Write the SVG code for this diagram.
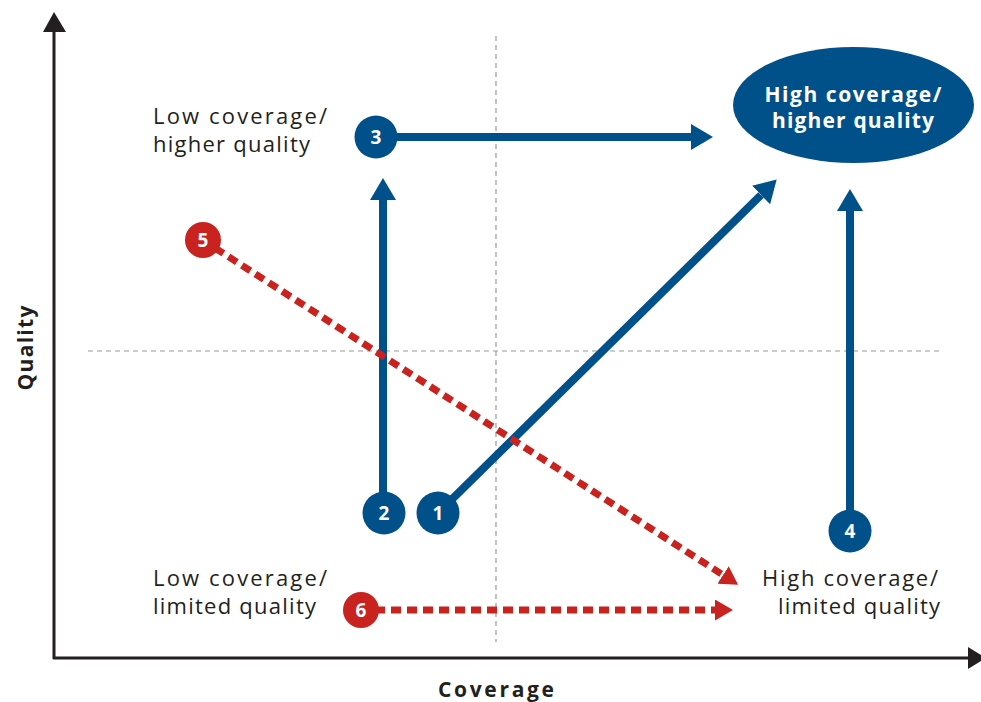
<svg xmlns="http://www.w3.org/2000/svg" width="981" height="702" viewBox="0 0 981 702">
<style>
.axis{stroke:#231f20;stroke-width:3;fill:none}
.grid{stroke:#999;stroke-width:1.2;stroke-dasharray:5 4;fill:none}
.blue{stroke:#00508a;stroke-width:8;fill:none}
.red{stroke:#c8231e;stroke-width:7;stroke-dasharray:10 6;fill:none}
.bfill{fill:#00508a}
.rfill{fill:#c8231e}
.lbl{font-family:"Open Sans","Liberation Sans",sans-serif;font-size:22px;fill:#231f20}
.num{font-family:"Open Sans","Liberation Sans",sans-serif;font-size:19px;font-weight:bold;fill:#fff;text-anchor:middle}
.ell{font-family:"Open Sans","Liberation Sans",sans-serif;font-size:21px;font-weight:bold;fill:#fff;text-anchor:middle}
.ax{font-family:"Open Sans","Liberation Sans",sans-serif;font-size:21px;font-weight:bold;fill:#231f20;text-anchor:middle}
</style>
<defs>
<marker id="ab" markerUnits="userSpaceOnUse" markerWidth="22" markerHeight="26" viewBox="0 0 22 26" refX="0" refY="13" orient="auto">
<path d="M0,0 L22,13 L0,26 z" fill="#00508a"/>
</marker>
<marker id="ar" markerUnits="userSpaceOnUse" markerWidth="18" markerHeight="21" viewBox="0 0 18 21" refX="0" refY="10.5" orient="auto">
<path d="M0,0 L18,10.5 L0,21 z" fill="#c8231e"/>
</marker>
</defs>
<rect width="981" height="702" fill="#fff"/>
<g id="axes">
<line class="axis" x1="54" y1="30" x2="54" y2="659"/>
<line class="axis" x1="53" y1="658" x2="970" y2="658"/>
<polygon points="43,32 54,12 66,32" fill="#231f20"/>
<polygon points="968,647 986,658 968,669" fill="#231f20"/>
<line class="grid" x1="496" y1="36" x2="496" y2="642"/>
<line class="grid" x1="88" y1="351" x2="942" y2="351"/>
<text class="ax" x="496" y="697" textLength="116" lengthAdjust="spacing">Coverage</text>
<text class="ax" transform="translate(33,348) rotate(-90)" textLength="85" lengthAdjust="spacing">Quality</text>
</g>
<g id="connectors">
<line class="blue" x1="376" y1="137" x2="691" y2="137" marker-end="url(#ab)"/>
<line class="blue" x1="383" y1="513" x2="383" y2="200" marker-end="url(#ab)"/>
<line class="blue" x1="438" y1="513" x2="761" y2="195" marker-end="url(#ab)"/>
<line class="blue" x1="850" y1="531" x2="850" y2="211" marker-end="url(#ab)"/>
<line class="red" x1="215" y1="248" x2="723" y2="575" marker-end="url(#ar)"/>
<line class="red" x1="375" y1="610" x2="715" y2="610" marker-end="url(#ar)"/>
</g>
<g id="label-low-high">
<text class="lbl" x="153" y="124" textLength="174" lengthAdjust="spacing">Low coverage/</text>
<text class="lbl" x="153" y="152" textLength="157" lengthAdjust="spacing">higher quality</text>
</g>
<g id="label-low-limited">
<text class="lbl" x="153" y="586" textLength="174" lengthAdjust="spacing">Low coverage/</text>
<text class="lbl" x="153" y="614" textLength="163" lengthAdjust="spacing">limited quality</text>
</g>
<g id="label-high-limited">
<text class="lbl" x="762" y="586" textLength="176" lengthAdjust="spacing">High coverage/</text>
<text class="lbl" x="778" y="614" textLength="162" lengthAdjust="spacing">limited quality</text>
</g>
<g id="target">
<ellipse class="bfill" cx="853.5" cy="105" rx="120.5" ry="58"/>
<text class="ell" x="853" y="102" textLength="177" lengthAdjust="spacing">High coverage/</text>
<text class="ell" x="853" y="128" textLength="162" lengthAdjust="spacing">higher quality</text>
</g>
<g id="n1"><circle class="bfill" cx="438" cy="513" r="21.5"/><text class="num" x="438" y="520">1</text></g>
<g id="n2"><circle class="bfill" cx="384" cy="513" r="21.5"/><text class="num" x="384" y="520">2</text></g>
<g id="n3"><circle class="bfill" cx="376" cy="137" r="21.5"/><text class="num" x="376" y="144">3</text></g>
<g id="n4"><circle class="bfill" cx="850" cy="531" r="21.5"/><text class="num" x="850" y="538">4</text></g>
<g id="n5"><circle class="rfill" cx="203" cy="240" r="18"/><text class="num" x="203" y="247">5</text></g>
<g id="n6"><circle class="rfill" cx="361" cy="610" r="18"/><text class="num" x="361" y="617">6</text></g>
</svg>
